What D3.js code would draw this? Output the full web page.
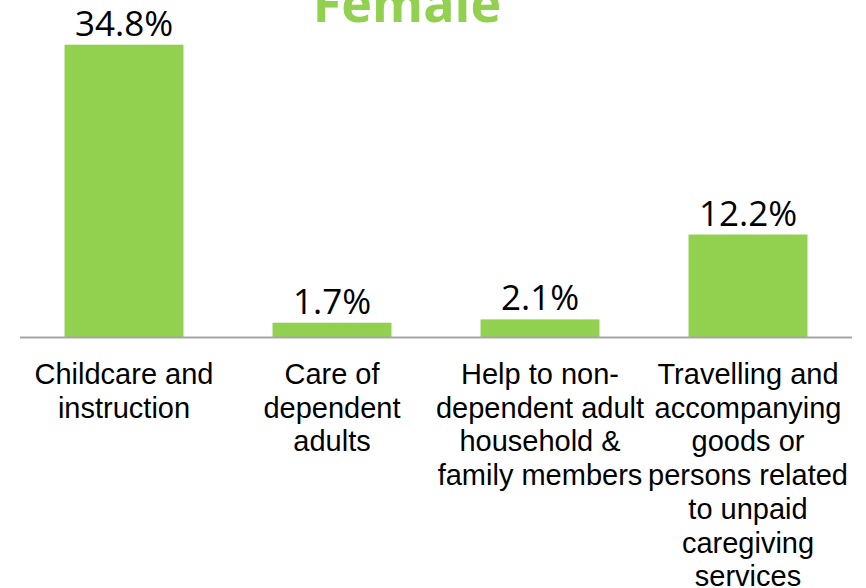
<!DOCTYPE html>
<meta charset="utf-8">
<script src="https://d3js.org/d3.v7.min.js"></script>
<style>
  body { margin: 0; background: #fff; }
</style>
<svg id="chart" width="866" height="588"></svg>
<script>
// chart data
const categories = [
  ["Childcare and", "instruction"],
  ["Care of", "dependent", "adults"],
  ["Help to non-", "dependent adult", "household &", "family members"],
  ["Travelling and", "accompanying", "goods or", "persons related", "to unpaid", "caregiving", "services"]
];
const values = [34.8, 1.7, 2.1, 12.2];
const title = "Female";

const svg = d3.select("#chart"),
    width = +svg.attr("width"),
    height = +svg.attr("height");

const green = "#92D050";

const x = d3.scaleBand()
    .domain(d3.range(values.length))
    .range([20, 852])
    .paddingInner(0.428)
    .paddingOuter(0.214);

const y = d3.scaleLinear()
    .domain([0, 40])
    .range([337, 1]);

// title (cut off at top like the original)
svg.append("text")
    .attr("x", 407)
    .attr("y", 22)
    .attr("text-anchor", "middle")
    .attr("font-family", "Open Sans")
    .attr("font-weight", "bold")
    .attr("font-size", 52)
    .attr("fill", green)
    .text(title);

// bars
svg.append("g")
  .selectAll("rect")
  .data(values)
  .join("rect")
    .attr("x", (d, i) => x(i))
    .attr("y", d => y(d))
    .attr("width", x.bandwidth())
    .attr("height", d => y(0) - y(d))
    .attr("fill", green);

// value labels
svg.append("g")
  .selectAll("text")
  .data(values)
  .join("text")
    .attr("x", (d, i) => x(i) + x.bandwidth() / 2)
    .attr("y", d => y(d) - 9)
    .attr("text-anchor", "middle")
    .attr("font-family", "Open Sans")
    .attr("font-size", 35)
    .attr("fill", "#000")
    .text(d => d.toFixed(1) + "%");

// baseline
svg.append("line")
    .attr("x1", 20).attr("x2", 852)
    .attr("y1", y(0) + 0.5).attr("y2", y(0) + 0.5)
    .attr("stroke", "#a6a6a6")
    .attr("stroke-width", 2);

// category labels
const lab = svg.append("g")
  .selectAll("text")
  .data(categories)
  .join("text")
    .attr("text-anchor", "middle")
    .attr("font-family", "Liberation Sans, Arial, sans-serif")
    .attr("font-size", 29)
    .attr("fill", "#000");

lab.selectAll("tspan")
  .data((d, i) => d.map(t => ({ t, i })))
  .join("tspan")
    .attr("x", d => x(d.i) + x.bandwidth() / 2)
    .attr("y", (d, j) => 384 + j * 33.7)
    .text(d => d.t);
</script>
